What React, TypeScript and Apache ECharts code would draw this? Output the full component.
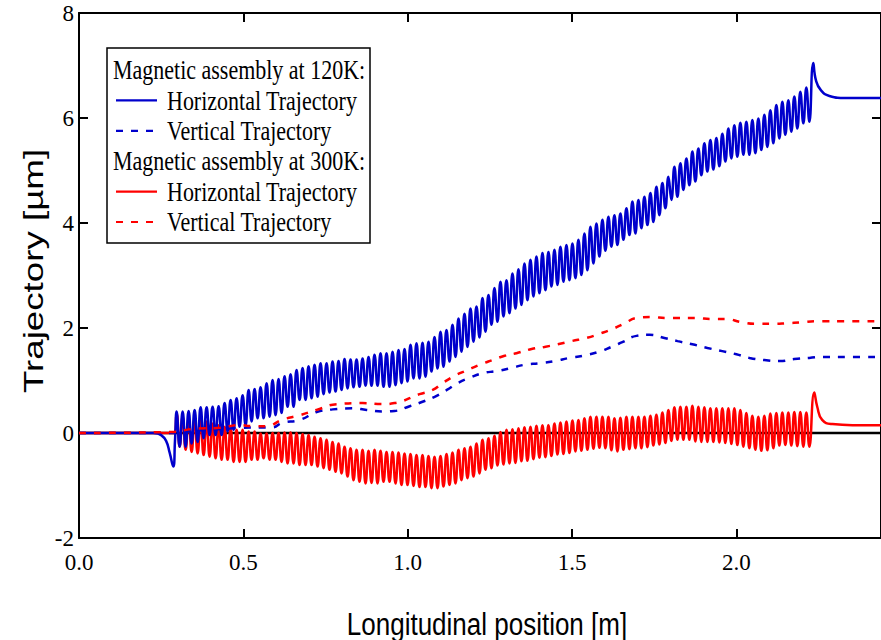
import { useEffect, useRef } from "react";
import * as echarts from "echarts";

// Axis ranges (longitudinal position in m, trajectory in µm)
const xMin = 0;
const xMax = 2.44;
const yMin = -2;
const yMax = 8;
const xInterval = 0.5;
const yInterval = 2;

// Undulator section: position of the first maximum and spacing of one period (m)
const oscStart = 0.297;
const oscPeriod = 0.018246;

// Magnetic assembly at 120K, horizontal trajectory: entrance kick, maxima, minima, exit kick
const blueEntry: [number, number][] = [
  [0, 0], [0.23, 0], [0.25, -0.04], [0.265, -0.15], [0.276, -0.38], [0.2867, -0.64], [0.292, -0.15],
];
const blueHighs = [
  0.41, 0.41, 0.42, 0.44, 0.49, 0.49, 0.5, 0.51, 0.57, 0.63, 0.66, 0.72, 0.82, 0.84, 0.87, 0.95, 1.01,
  1.03, 1.08, 1.12, 1.2, 1.24, 1.27, 1.3, 1.33, 1.33, 1.36, 1.37, 1.41, 1.4, 1.4, 1.42, 1.45, 1.49,
  1.52, 1.52, 1.55, 1.58, 1.6, 1.68, 1.71, 1.72, 1.74, 1.83, 1.93, 1.96, 2.06, 2.18, 2.27, 2.37, 2.41, 2.57, 2.63,
  2.76, 2.88, 2.91, 3.04, 3.12, 3.23, 3.3, 3.36, 3.43, 3.45, 3.49, 3.55, 3.58, 3.61, 3.68, 3.8, 3.93, 3.99, 4.06,
  4.12, 4.15, 4.18, 4.28, 4.41, 4.44, 4.5, 4.57, 4.69, 4.76, 4.88, 5.07, 5.14, 5.23, 5.36, 5.42, 5.52, 5.58, 5.62,
  5.7, 5.8, 5.86, 5.91, 5.93, 5.96, 5.99, 6.06, 6.15, 6.25, 6.31, 6.34, 6.41, 6.5, 6.58,
];
const blueLows = [
  -0.26, -0.26, -0.2, -0.17, -0.1, -0.04, -0.04, -0.04, 0.03, 0.06, 0.12, 0.15, 0.22, 0.28, 0.28, 0.31,
  0.34, 0.38, 0.5, 0.5, 0.63, 0.63, 0.66, 0.69, 0.74, 0.77, 0.79, 0.82, 0.85, 0.87, 0.88, 0.9, 0.9, 0.9,
  0.88, 0.88, 0.91, 0.95, 0.98, 1.04, 1.04, 1.07, 1.17, 1.23, 1.26, 1.36, 1.45, 1.55, 1.64, 1.74, 1.82, 1.93, 2.06,
  2.12, 2.22, 2.28, 2.37, 2.44, 2.53, 2.6, 2.66, 2.72, 2.79, 2.82, 2.88, 2.91, 2.95, 3.01, 3.1, 3.23, 3.36,
  3.47, 3.55, 3.58, 3.68, 3.77, 3.8, 3.9, 3.96, 4.02, 4.15, 4.28, 4.44, 4.5, 4.63, 4.72, 4.79, 4.91, 4.98,
  5.02, 5.08, 5.17, 5.23, 5.26, 5.3, 5.3, 5.33, 5.39, 5.45, 5.52, 5.61, 5.68, 5.74, 5.8, 5.9, 5.93,
];
const blueExit: [number, number][] = [
  [2.234, 7.05], [2.242, 6.72], [2.257, 6.53], [2.283, 6.42], [2.333, 6.38], [2.44, 6.38],
];

// Magnetic assembly at 120K, vertical trajectory
const blueVertical: [number, number][] = [
  [0, 0], [0.28, 0], [0.35, 0.04], [0.42, 0.07], [0.499, 0.1], [0.59, 0.11], [0.617, 0.19], [0.672, 0.25],
  [0.723, 0.4], [0.772, 0.45], [0.833, 0.47], [0.875, 0.44], [0.924, 0.41], [0.96, 0.42], [1.006, 0.51],
  [1.043, 0.59], [1.082, 0.69], [1.119, 0.82], [1.152, 0.95], [1.188, 1.05], [1.228, 1.14], [1.271, 1.18],
  [1.316, 1.24], [1.356, 1.3], [1.401, 1.33], [1.447, 1.37], [1.492, 1.43], [1.532, 1.47], [1.578, 1.54],
  [1.62, 1.64], [1.653, 1.73], [1.696, 1.85], [1.736, 1.87], [1.781, 1.81], [1.821, 1.75], [1.866, 1.69],
  [1.912, 1.62], [1.957, 1.56], [2.0, 1.5], [2.04, 1.43], [2.085, 1.39], [2.131, 1.37], [2.176, 1.41],
  [2.222, 1.43], [2.261, 1.45], [2.353, 1.45], [2.44, 1.45],
];

// Magnetic assembly at 300K, horizontal trajectory
const redEntry: [number, number][] = [[0, 0], [0.289, 0]];
const redHighs = [
  0.37, 0.31, 0.28, 0.28, 0.25, 0.22, 0.18, 0.15, 0.12, 0.09, 0.06, 0.06, 0.03, 0.03, -0.01, -0.01, 0.0,
  0.0, 0.01, 0.01, 0.0, -0.02, -0.04, -0.07, -0.1, -0.13, -0.17, -0.2, -0.26, -0.29, -0.32, -0.32, -0.34, -0.32, -0.34,
  -0.36, -0.36, -0.37, -0.39, -0.4, -0.42, -0.42, -0.44, -0.45, -0.44, -0.4, -0.37, -0.32, -0.29, -0.26, -0.2, -0.13, -0.1,
  -0.05, 0.02, 0.06, 0.07, 0.09, 0.11, 0.12, 0.14, 0.15, 0.15, 0.18, 0.2, 0.22, 0.24, 0.25, 0.28, 0.31, 0.31,
  0.31, 0.31, 0.28, 0.29, 0.31, 0.31, 0.31, 0.31, 0.33, 0.35, 0.39, 0.44, 0.49, 0.5, 0.5, 0.52, 0.5, 0.49,
  0.47, 0.47, 0.47, 0.47, 0.47, 0.44, 0.38, 0.33, 0.31, 0.33, 0.37, 0.38, 0.39, 0.39, 0.4, 0.4, 0.39,
];
const redLows = [
  -0.26, -0.32, -0.36, -0.39, -0.42, -0.45, -0.48, -0.51, -0.51, -0.55, -0.55, -0.55, -0.51, -0.51, -0.48, -0.51,
  -0.51, -0.55, -0.58, -0.58, -0.61, -0.61, -0.61, -0.64, -0.67, -0.7, -0.74, -0.77, -0.83, -0.9, -0.93, -0.96, -0.95, -0.96, -0.93,
  -0.93, -0.96, -0.99, -0.99, -1.01, -1.03, -1.03, -1.05, -1.05, -1.02, -0.99, -0.96, -0.9, -0.86, -0.83, -0.77, -0.7, -0.67,
  -0.62, -0.6, -0.58, -0.57, -0.54, -0.53, -0.5, -0.47, -0.46, -0.44, -0.41, -0.4, -0.38, -0.35, -0.34, -0.32, -0.3, -0.28,
  -0.29, -0.33, -0.35, -0.32, -0.31, -0.29, -0.29, -0.27, -0.24, -0.22, -0.19, -0.15, -0.13, -0.13, -0.13, -0.16, -0.17, -0.17,
  -0.17, -0.18, -0.19, -0.21, -0.23, -0.26, -0.29, -0.32, -0.34, -0.33, -0.29, -0.24, -0.23, -0.24, -0.25, -0.26, -0.26,
];
const redExit: [number, number][] = [
  [2.237, 0.77], [2.246, 0.5], [2.261, 0.25], [2.292, 0.17], [2.353, 0.15], [2.44, 0.15],
];

// Magnetic assembly at 300K, vertical trajectory
const redVertical: [number, number][] = [
  [0, 0], [0.28, 0.02], [0.35, 0.08], [0.429, 0.1], [0.489, 0.15], [0.529, 0.13], [0.571, 0.13], [0.617, 0.25],
  [0.672, 0.34], [0.723, 0.44], [0.784, 0.55], [0.863, 0.57], [0.924, 0.55], [0.96, 0.57], [1.036, 0.74],
  [1.076, 0.82], [1.106, 0.95], [1.143, 1.09], [1.182, 1.2], [1.219, 1.3], [1.258, 1.39], [1.295, 1.47],
  [1.331, 1.52], [1.377, 1.6], [1.416, 1.64], [1.456, 1.69], [1.498, 1.75], [1.544, 1.81], [1.584, 1.89],
  [1.623, 1.98], [1.66, 2.09], [1.696, 2.19], [1.742, 2.21], [1.787, 2.19], [1.878, 2.19], [1.924, 2.17],
  [1.97, 2.17], [2.015, 2.11], [2.061, 2.08], [2.106, 2.08], [2.152, 2.09], [2.198, 2.11], [2.243, 2.13],
  [2.343, 2.13], [2.44, 2.13],
];

// Legend content
const groupTitles = ["Magnetic assembly at 120K:", "Magnetic assembly at 300K:"];
const traceNames = ["Horizontal Trajectory", "Vertical Trajectory"];
const xTitle = "Longitudinal position [m]";
const yTitle = "Trajectory [µm]";

const BLUE = "#0000cc";
const RED = "#ff0000";
const SERIF = "'Liberation Serif', 'Times New Roman', serif";
const SANS = "'Liberation Sans', Arial, sans-serif";

// Interleave maxima and minima along the undulator period grid
function undulatorTrace(entry: [number, number][], highs: number[], lows: number[], exit: [number, number][]) {
  const pts: [number, number][] = entry.slice();
  for (let k = 0; k < highs.length; k++) {
    pts.push([oscStart + k * oscPeriod, highs[k]]);
    pts.push([oscStart + (k + 0.5) * oscPeriod, lows[k]]);
  }
  return pts.concat(exit);
}

function buildOption(): echarts.EChartsCoreOption {
  const axisLineStyle = { color: "#000", width: 2 };
  const tickStyle = { show: true, inside: true, length: 9, lineStyle: { color: "#000", width: 2 } };
  const xLabel = (v: number) => (Math.abs(v / xInterval - Math.round(v / xInterval)) < 1e-6 ? v.toFixed(1) : "");

  const legendX = 107;
  const legendY = 48;
  const rowH = 30.4;
  const rows: { kind: "title" | "line"; text: string; color?: string; dashed?: boolean }[] = [
    { kind: "title", text: groupTitles[0] },
    { kind: "line", text: traceNames[0], color: BLUE, dashed: false },
    { kind: "line", text: traceNames[1], color: BLUE, dashed: true },
    { kind: "title", text: groupTitles[1] },
    { kind: "line", text: traceNames[0], color: RED, dashed: false },
    { kind: "line", text: traceNames[1], color: RED, dashed: true },
  ];
  const legendChildren: any[] = [
    {
      type: "rect",
      shape: { x: legendX, y: legendY, width: 263, height: 195 },
      style: { fill: "#fff", stroke: "#000", lineWidth: 1.5 },
    },
  ];
  rows.forEach((r, i) => {
    const cy = legendY + 22 + i * rowH;
    if (r.kind === "title") {
      legendChildren.push({
        type: "text",
        x: legendX + 6,
        y: cy,
        scaleY: 1.2,
        style: { text: r.text, fontSize: 22, fontFamily: SERIF, fill: "#000", align: "left", verticalAlign: "middle" },
      });
    } else {
      legendChildren.push({
        type: "line",
        shape: { x1: legendX + 9, y1: cy, x2: legendX + 50, y2: cy },
        style: { stroke: r.color, lineWidth: 2.2, lineDash: r.dashed ? [7, 8] : null },
      });
      legendChildren.push({
        type: "text",
        x: legendX + 60,
        y: cy,
        scaleY: 1.2,
        style: { text: r.text, fontSize: 22, fontFamily: SERIF, fill: "#000", align: "left", verticalAlign: "middle" },
      });
    }
  });

  const lineSeries = (name: string, data: [number, number][], color: string, dashed: boolean, z: number) => ({
    type: "line",
    name,
    data,
    showSymbol: false,
    symbol: "none",
    smooth: 0.5,
    z,
    silent: true,
    lineStyle: { color, width: 2.5, type: dashed ? [7, 8] : "solid" },
  });

  return {
    animation: false,
    backgroundColor: "#fff",
    grid: { left: 79, top: 13, width: 803, height: 525, containLabel: false },
    xAxis: [
      {
        type: "value",
        position: "bottom",
        min: xMin,
        max: xMax,
        interval: xInterval,
        axisLine: { show: true, onZero: false, lineStyle: axisLineStyle },
        axisTick: tickStyle,
        axisLabel: {
          formatter: xLabel,
          showMaxLabel: false,
          fontFamily: SERIF,
          fontSize: 23,
          color: "#000",
          margin: 13,
        },
        splitLine: { show: false },
      },
      {
        type: "value",
        position: "top",
        min: xMin,
        max: xMax,
        interval: xInterval,
        axisLine: { show: true, onZero: false, lineStyle: axisLineStyle },
        axisTick: tickStyle,
        axisLabel: { show: false },
        splitLine: { show: false },
      },
    ],
    yAxis: [
      {
        type: "value",
        position: "left",
        min: yMin,
        max: yMax,
        interval: yInterval,
        axisLine: { show: true, onZero: false, lineStyle: axisLineStyle },
        axisTick: tickStyle,
        axisLabel: { fontFamily: SERIF, fontSize: 23, color: "#000", margin: 5, padding: [3, 0, 0, 0] },
        splitLine: { show: false },
      },
      {
        type: "value",
        position: "right",
        min: yMin,
        max: yMax,
        interval: yInterval,
        axisLine: { show: true, onZero: false, lineStyle: axisLineStyle },
        axisTick: tickStyle,
        axisLabel: { show: false },
        splitLine: { show: false },
      },
    ],
    series: [
      {
        type: "line",
        name: "zero",
        data: [[xMin, 0], [xMax, 0]],
        symbol: "none",
        silent: true,
        z: 1,
        lineStyle: { color: "#000", width: 2.5 },
      },
      lineSeries(`${groupTitles[1]} ${traceNames[0]}`, undulatorTrace(redEntry, redHighs, redLows, redExit), RED, false, 2),
      lineSeries(`${groupTitles[0]} ${traceNames[0]}`, undulatorTrace(blueEntry, blueHighs, blueLows, blueExit), BLUE, false, 3),
      lineSeries(`${groupTitles[0]} ${traceNames[1]}`, blueVertical, BLUE, true, 4),
      lineSeries(`${groupTitles[1]} ${traceNames[1]}`, redVertical, RED, true, 5),
    ],
    graphic: [
      { type: "group", children: legendChildren, z: 100 },
      {
        type: "text",
        x: 34,
        y: 271,
        rotation: Math.PI / 2,
        scaleX: 1.36,
        style: { text: yTitle, fontSize: 27, fontFamily: SANS, fill: "#000", align: "center", verticalAlign: "middle" },
      },
      {
        type: "text",
        x: 487,
        y: 624,
        scaleY: 1.2,
        style: { text: xTitle, fontSize: 26, fontFamily: SANS, fill: "#000", align: "center", verticalAlign: "middle" },
      },
    ],
  };
}

export default function App() {
  const ref = useRef<HTMLDivElement>(null);
  useEffect(() => {
    if (!ref.current) return;
    const chart = echarts.init(ref.current, null, { renderer: "svg" });
    chart.setOption(buildOption());
    return () => chart.dispose();
  }, []);
  return (
    <div
      ref={ref}
      style={{ position: "fixed", left: 0, top: 0, width: 881, height: 640, background: "#fff" }}
    />
  );
}
